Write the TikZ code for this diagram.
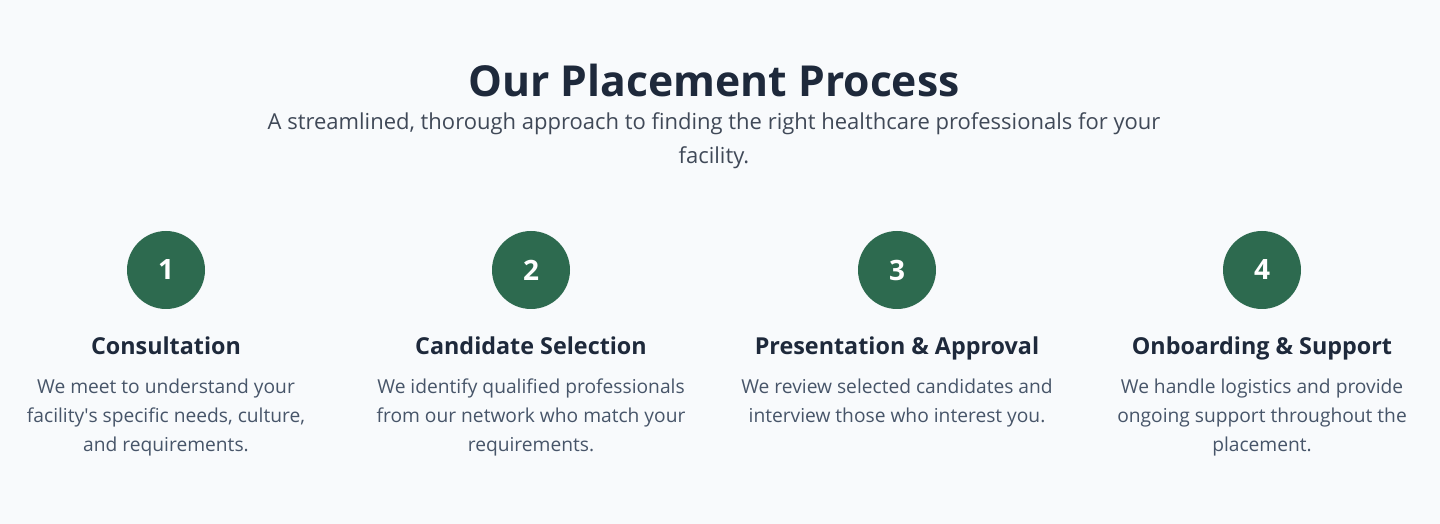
\documentclass[tikz,border=0pt]{standalone}
\usepackage{fontspec}
\setmainfont{Open Sans}
\usepackage{tikz}
\usetikzlibrary{positioning}
\definecolor{pagebg}{HTML}{F8FAFC}
\definecolor{stepgreen}{HTML}{2D6A4F}
\definecolor{headink}{HTML}{1E293B}
\definecolor{bodyink}{HTML}{475569}
\newcommand{\stepfont}{\fontsize{17.5}{22}\selectfont\bfseries}
\newcommand{\bodyfont}{\fontsize{14.4}{21.75}\selectfont}

\begin{document}
\begin{tikzpicture}[x=.75pt,y=-.75pt,
  num/.style={circle,fill=stepgreen,minimum size=58.5pt,inner sep=0pt,
    text=white,font=\fontsize{21}{24}\selectfont\bfseries},
  stephead/.style={text=headink,font=\stepfont,inner sep=0pt,anchor=base},
  stepbody/.style={text=bodyink,font=\bodyfont,align=center,inner sep=0pt,anchor=north}]
\fill[pagebg] (0,0) rectangle (1440,524);
\useasboundingbox (0,0) rectangle (1440,524);
%heading
\node[text=headink,font=\fontsize{32}{36}\selectfont\bfseries] (title) at (714,81) {Our Placement Process};
\node[text=headink!85!white,font=\fontsize{16.5}{25.5}\selectfont,align=center] (sub) at (714,141)
  {A streamlined, thorough approach to finding the right healthcare professionals for your\\ facility.};
%step 1
\node[num] (n1) at (166,270) {1};
\node[stephead] (h1) at (166,354) {Consultation};
\node[stepbody] (b1) at (166,379) {We meet to understand your\\ facility\textquotesingle s specific needs, culture,\\ and requirements.};
%step 2
\node[num] (n2) at (531,270) {2};
\node[stephead] (h2) at (531,354) {Candidate Selection};
\node[stepbody] (b2) at (531,379) {We identify qualified professionals\\ from our network who match your\\ requirements.};
%step 3
\node[num] (n3) at (897,270) {3};
\node[stephead] (h3) at (897,354) {Presentation \& Approval};
\node[stepbody] (b3) at (897,379) {We review selected candidates and\\ interview those who interest you.};
%step 4
\node[num] (n4) at (1262,270) {4};
\node[stephead] (h4) at (1262,354) {Onboarding \& Support};
\node[stepbody] (b4) at (1262,379) {We handle logistics and provide\\ ongoing support throughout the\\ placement.};
\end{tikzpicture}
\end{document}
